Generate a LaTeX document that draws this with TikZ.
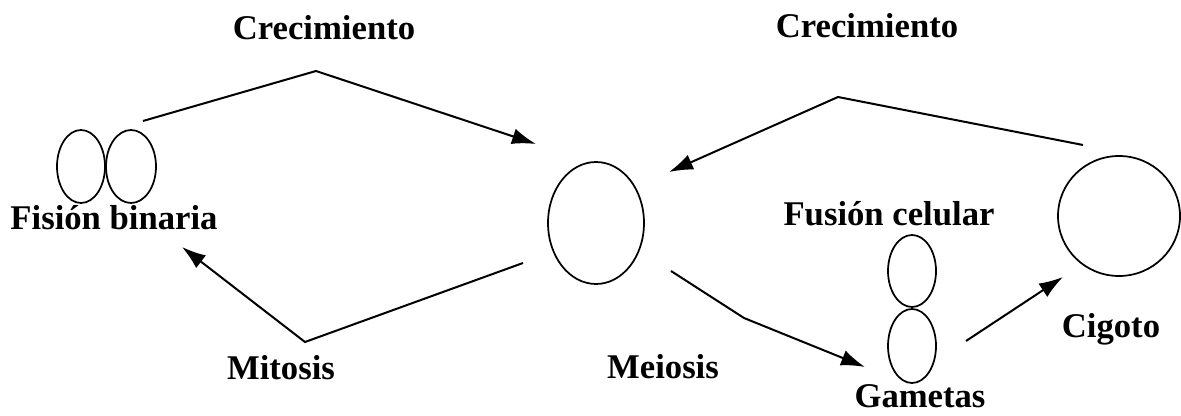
\documentclass[tikz,border=0pt]{standalone}
\usepackage{fontspec}
\setmainfont{Liberation Serif}
\usetikzlibrary{shapes.geometric,arrows.meta}

\begin{document}
\begin{tikzpicture}[x=0.75pt, y=-0.75pt,
    cell/.style={ellipse, draw, line width=1.3pt, inner sep=0pt},
    lbl/.style={font=\bfseries\fontsize{26}{30}\selectfont, inner sep=0pt},
    link/.style={draw, line width=1.5pt, -{Latex[length=18pt,width=12pt]}}]
    \useasboundingbox (0,0) rectangle (1181,416);
    % Place nodes
    \node [cell, minimum width=48*0.75pt, minimum height=73*0.75pt] (B1) at (81,166.5) {};
    \node [cell, minimum width=50*0.75pt, minimum height=73*0.75pt] (B2) at (131,166.5) {};
    \node [lbl] (FB) at (114,218) {Fisión binaria};
    \node [cell, minimum width=96*0.75pt, minimum height=122*0.75pt] (M) at (596,223) {};
    \node [cell, minimum width=48*0.75pt, minimum height=72*0.75pt] (G1) at (912,271) {};
    \node [cell, minimum width=48*0.75pt, minimum height=74*0.75pt] (G2) at (912,346) {};
    \node [cell, minimum width=122*0.75pt, minimum height=120*0.75pt] (Z) at (1119,216) {};
    \node [lbl] (C1) at (324,28) {Crecimiento};
    \node [lbl] (C2) at (867,26) {Crecimiento};
    \node [lbl] (MT) at (281,368) {Mitosis};
    \node [lbl] (MS) at (663,367) {Meiosis};
    \node [lbl] (FC) at (889,214) {Fusión celular};
    \node [lbl] (GM) at (920,396) {Gametas};
    \node [lbl] (CG) at (1111,329) {Cigoto};
    % Bends and free ends
    \coordinate (a1) at (143,121);
    \coordinate (a2) at (316,71);
    \coordinate (a3) at (536,144);
    \coordinate (b1) at (523,263);
    \coordinate (b2) at (305,342);
    \coordinate (b3) at (182,247);
    \coordinate (c1) at (1083,145);
    \coordinate (c2) at (838,97);
    \coordinate (c3) at (669,172);
    \coordinate (d1) at (671,271);
    \coordinate (d2) at (744,318);
    \coordinate (d3) at (865,367);
    \coordinate (e1) at (966,341);
    \coordinate (e2) at (1063,277);
    % Connectors
    \path [link] (a1) -- (a2) -- (a3);
    \path [link] (b1) -- (b2) -- (b3);
    \path [link] (c1) -- (c2) -- (c3);
    \path [link] (d1) -- (d2) -- (d3);
    \path [link] (e1) -- (e2);
\end{tikzpicture}
\end{document}
